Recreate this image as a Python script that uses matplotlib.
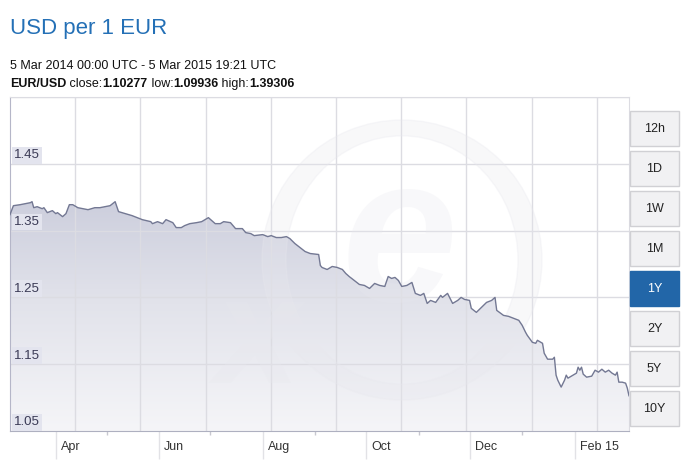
import numpy as np
import pandas as pd
import matplotlib
matplotlib.use('Agg')
import matplotlib.pyplot as plt
import matplotlib.dates as mdates
from matplotlib.patches import Rectangle, Annulus
from matplotlib.colors import LinearSegmentedColormap
from matplotlib.transforms import IdentityTransform

plt.rcParams['font.family'] = ['Liberation Sans', 'DejaVu Sans']

# EUR/USD daily rate
dates = ['2014-03-05', '2014-03-07', '2014-03-11', '2014-03-14', '2014-03-17', '2014-03-18',
         '2014-03-19', '2014-03-21', '2014-03-24', '2014-03-25', '2014-03-27', '2014-03-30',
         '2014-04-01', '2014-04-02', '2014-04-05', '2014-04-07', '2014-04-09', '2014-04-11',
         '2014-04-14', '2014-04-20', '2014-04-24', '2014-04-27', '2014-04-30', '2014-05-03',
         '2014-05-06', '2014-05-08', '2014-05-12', '2014-05-16', '2014-05-19', '2014-05-22',
         '2014-05-27', '2014-05-28', '2014-05-31', '2014-06-03', '2014-06-05', '2014-06-09',
         '2014-06-11', '2014-06-14', '2014-06-16', '2014-06-19', '2014-06-23', '2014-06-26',
         '2014-06-30', '2014-07-02', '2014-07-04', '2014-07-07', '2014-07-09', '2014-07-13',
         '2014-07-16', '2014-07-20', '2014-07-22', '2014-07-25', '2014-07-27', '2014-08-01',
         '2014-08-04', '2014-08-06', '2014-08-09', '2014-08-12', '2014-08-15', '2014-08-17',
         '2014-08-20', '2014-08-23', '2014-08-26', '2014-08-29', '2014-09-03', '2014-09-04',
         '2014-09-05', '2014-09-08', '2014-09-11', '2014-09-14', '2014-09-17', '2014-09-19',
         '2014-09-21', '2014-09-24', '2014-09-27', '2014-09-30', '2014-10-03', '2014-10-06',
         '2014-10-09', '2014-10-12', '2014-10-14', '2014-10-16', '2014-10-18', '2014-10-20',
         '2014-10-22', '2014-10-25', '2014-10-28', '2014-10-30', '2014-11-02', '2014-11-04',
         '2014-11-06', '2014-11-08', '2014-11-11', '2014-11-14', '2014-11-15', '2014-11-18',
         '2014-11-21', '2014-11-24', '2014-11-26', '2014-11-28', '2014-12-01', '2014-12-02',
         '2014-12-05', '2014-12-08', '2014-12-11', '2014-12-14', '2014-12-16', '2014-12-17',
         '2014-12-21', '2014-12-24', '2014-12-27', '2014-12-30', '2015-01-01', '2015-01-03',
         '2015-01-04', '2015-01-07', '2015-01-09', '2015-01-10', '2015-01-13', '2015-01-14',
         '2015-01-16', '2015-01-19', '2015-01-20', '2015-01-21', '2015-01-22', '2015-01-24',
         '2015-01-26', '2015-01-27', '2015-01-28', '2015-01-30', '2015-02-02', '2015-02-03',
         '2015-02-04', '2015-02-05', '2015-02-06', '2015-02-08', '2015-02-11', '2015-02-13',
         '2015-02-15', '2015-02-17', '2015-02-19', '2015-02-21', '2015-02-23', '2015-02-25',
         '2015-02-26', '2015-02-27', '2015-03-01', '2015-03-03', '2015-03-04', '2015-03-05']
rates = [1.3739, 1.3873, 1.3888, 1.3903, 1.3918, 1.3933,
         1.3843, 1.3858, 1.3828, 1.3843, 1.3769, 1.3799,
         1.3754, 1.3769, 1.3709, 1.3754, 1.3888, 1.3888,
         1.3843, 1.3813, 1.3843, 1.3843, 1.3858, 1.3873,
         1.3933, 1.3784, 1.3754, 1.3724, 1.3694, 1.3664,
         1.3634, 1.3604, 1.3634, 1.3604, 1.3664, 1.3619,
         1.3545, 1.3545, 1.3575, 1.3604, 1.3619, 1.3634,
         1.3694, 1.3649, 1.3604, 1.3604, 1.3634, 1.3619,
         1.3530, 1.3530, 1.3470, 1.3455, 1.3425, 1.3440,
         1.3410, 1.3425, 1.3396, 1.3396, 1.3410, 1.3381,
         1.3306, 1.3246, 1.3187, 1.3157, 1.3142, 1.2978,
         1.2948, 1.2918, 1.2963, 1.2948, 1.2918, 1.2858,
         1.2813, 1.2754, 1.2694, 1.2679, 1.2634, 1.2709,
         1.2679, 1.2664, 1.2813, 1.2784, 1.2799, 1.2754,
         1.2664, 1.2679, 1.2724, 1.2560, 1.2530, 1.2560,
         1.2410, 1.2455, 1.2425, 1.2530, 1.2500, 1.2560,
         1.2410, 1.2455, 1.2500, 1.2470, 1.2455, 1.2336,
         1.2276, 1.2351, 1.2425, 1.2455, 1.2500, 1.2306,
         1.2231, 1.2216, 1.2187, 1.2157, 1.2082, 1.1978,
         1.1933, 1.1828, 1.1813, 1.1858, 1.1813, 1.1664,
         1.1575, 1.1575, 1.1604, 1.1336, 1.1261, 1.1157,
         1.1261, 1.1336, 1.1291, 1.1321, 1.1366, 1.1455,
         1.1410, 1.1455, 1.1351, 1.1306, 1.1321, 1.1410,
         1.1381, 1.1425, 1.1381, 1.1410, 1.1366, 1.1336,
         1.1381, 1.1231, 1.1231, 1.1216, 1.1142, 1.1028]

y_ticks = [1.05, 1.15, 1.25, 1.35, 1.45]
y_grid = [1.15, 1.25, 1.35, 1.45, 1.55]
x_major = ['2014-04-01', '2014-06-01', '2014-08-01', '2014-10-01', '2014-12-01', '2015-02-01']
x_major_labels = ['Apr', 'Jun', 'Aug', 'Oct', 'Dec', 'Feb 15']
x_minor = ['2014-05-01', '2014-07-01', '2014-09-01', '2014-11-01', '2015-01-01']
buttons = ['12h', '1D', '1W', '1M', '1Y', '2Y', '5Y', '10Y']
selected = '1Y'

W, H = 697, 461
fig = plt.figure(figsize=(W / 100, H / 100), dpi=100)
fig.patch.set_facecolor('white')


def fx(px):
    return px / W


def fy(py):
    # py counted from the top like in the picture
    return 1 - py / H


ax = fig.add_axes([fx(10), fy(431), fx(619), 334 / H])
ax.set_facecolor('white')

x = mdates.date2num(pd.to_datetime(dates))
y = np.array(rates)
x0, x1 = mdates.date2num(pd.Timestamp('2014-03-05')), mdates.date2num(pd.Timestamp('2015-03-05'))

# gradient fill under the line
poly = ax.fill_between(x, y, 1.05, color='none', lw=0)
grad = np.linspace(0, 1, 256).reshape(-1, 1)
cmap = LinearSegmentedColormap.from_list('fade', ['#f5f5f8', '#e2e3eb', '#c8cada'])
im = ax.imshow(grad, extent=[x0, x1, 1.05, 1.43], origin='lower', aspect='auto',
               cmap=cmap, zorder=1)
im.set_clip_path(poly.get_paths()[0], transform=ax.transData)

ax.plot(x, y, color='#737893', lw=1.0, zorder=4)

# grid
for g in y_grid:
    ax.axhline(g, color='#dcdce2', lw=1, zorder=2)
for k in range(1, 10):
    ax.plot([k * 65.2 / 619] * 2, [0, 1], transform=ax.transAxes, color='#dcdce2', lw=1, zorder=2)

# xe watermark, very faint
ring = Annulus((fx(402), fy(260)), (140 / W, 140 / H), 24 / W,
               transform=fig.transFigure, color='#e8e8ee', alpha=0.3, zorder=3)
ax.add_patch(ring)
ax.text(0.40, 0.26, 'x', transform=ax.transAxes, fontsize=110, fontweight='bold',
        style='italic', color='#e8e8ee', alpha=0.28, ha='center', va='center', zorder=3)
ax.text(0.63, 0.55, 'e', transform=ax.transAxes, fontsize=150, fontweight='bold',
        style='italic', color='#e8e8ee', alpha=0.28, ha='center', va='center', zorder=3)

ax.set_xlim(x0, x1)
ax.set_ylim(1.05, 1.55)

for s in ['top', 'right']:
    ax.spines[s].set_color('#dcdce2')
ax.spines['left'].set_color('#b5b6c8')
ax.spines['bottom'].set_color('#aeb0c0')

ax.set_yticks([])
ax.set_xticks(mdates.date2num(pd.to_datetime(x_major)))
ax.set_xticklabels([])
ax.set_xticks(mdates.date2num(pd.to_datetime(x_minor)), minor=True)
ax.tick_params(axis='x', which='major', length=20, color='#e2e2e6', width=1)
ax.tick_params(axis='x', which='minor', length=3, color='#c8c8d0', width=1)

# y labels sit inside the plot on small shaded boxes
for t in y_ticks:
    ax.text(4 / 619, t + 0.004, f'{t:.2f}', transform=ax.get_yaxis_transform(),
            fontsize=9.5, color='#3a3a55', ha='left', va='bottom', zorder=6,
            bbox=dict(boxstyle='square,pad=0.18', fc='#e3e4ee', ec='none'))

# x labels to the right of the tick
for d, lab in zip(x_major, x_major_labels):
    ax.text(mdates.date2num(pd.Timestamp(d)) + 3, -0.048, lab,
            transform=ax.get_xaxis_transform(), fontsize=9, color='#333333',
            ha='left', va='center')

# header texts
fig.text(fx(10), fy(34), 'USD per 1 EUR', fontsize=16, color='#2470b6', va='baseline')
fig.text(fx(10), fy(69), '5 Mar 2014 00:00 UTC - 5 Mar 2015 19:21 UTC', fontsize=9,
         color='#111111', va='baseline')

parts = [('EUR/USD', 'bold'), (' close:', 'normal'), ('1.10277', 'bold'),
         (' low:', 'normal'), ('1.09936', 'bold'), (' high:', 'normal'), ('1.39306', 'bold')]
renderer = fig.canvas.get_renderer()
xpos = 10
for s, w in parts:
    t = fig.text(xpos, H - 87, s, transform=IdentityTransform(), fontsize=9,
                 fontweight=w, color='#111111', va='baseline')
    xpos = t.get_window_extent(renderer).x1

# range buttons on the right
for i, b in enumerate(buttons):
    top = 111 + 40 * i
    on = b == selected
    fig.patches.append(Rectangle((fx(630), fy(top + 35)), 49 / W, 35 / H,
                                 transform=fig.transFigure, fc='#2266a8' if on else '#f1f1f3',
                                 ec='#2266a8' if on else '#d0d0d4', lw=1))
    fig.text(fx(654.5), fy(top + 17.5), b, fontsize=9, ha='center', va='center',
             color='white' if on else '#222222')

fig.savefig('out.png', dpi=100)
